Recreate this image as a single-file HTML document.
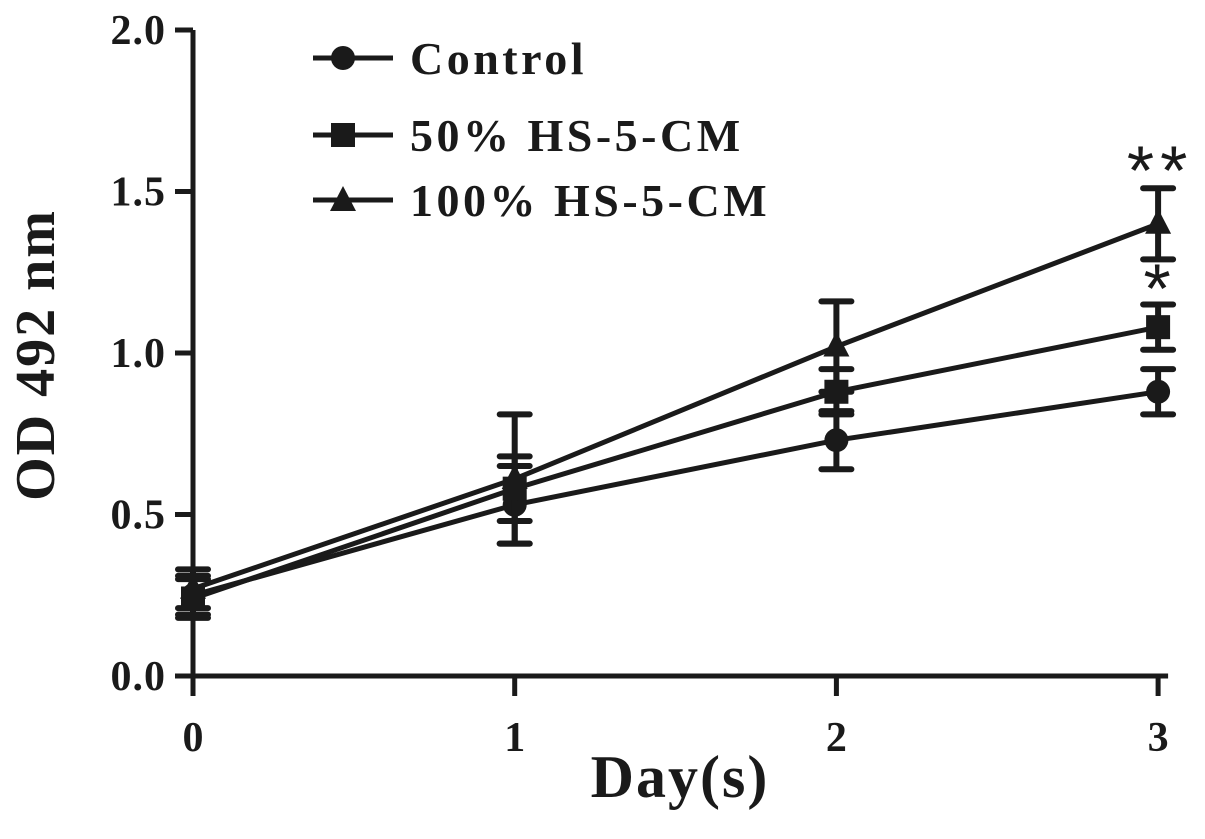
<!DOCTYPE html>
<html><head><meta charset="utf-8"><style>
body{margin:0;background:#fff;}
svg{display:block;font-family:"Liberation Serif",serif;font-weight:bold;}
</style></head><body>
<svg id="chart" width="1205" height="839" viewBox="0 0 1205 839" xmlns="http://www.w3.org/2000/svg"></svg>
<script>
const days = [0, 1, 2, 3];
const yTicks = [0, 0.5, 1.0, 1.5, 2.0];
const yTickLabels = ["0.0", "0.5", "1.0", "1.5", "2.0"];
const seriesNames = ["Control", "50% HS-5-CM", "100% HS-5-CM"];
const controlMean = [0.25, 0.53, 0.73, 0.88];
const controlErr = [0.06, 0.12, 0.09, 0.07];
const hs50Mean = [0.24, 0.58, 0.88, 1.08];
const hs50Err = [0.06, 0.10, 0.07, 0.07];
const hs100Mean = [0.27, 0.61, 1.02, 1.40];
const hs100Err = [0.06, 0.20, 0.14, 0.11];
const sig50 = ["", "", "", "*"];
const sig100 = ["", "", "", "**"];

const svg = document.getElementById('chart');
const NS = "http://www.w3.org/2000/svg";
const X0 = 193, XS = 321.7, Y0 = 676, YS = 323;
const xs = d => X0 + d * XS;
const ys = v => Y0 - v * YS;
function mk(tag, attrs, parent){const e=document.createElementNS(NS,tag);for(const k in attrs)e.setAttribute(k,attrs[k]);(parent||svg).appendChild(e);return e;}

let ax = mk('line',{x1:X0,y1:ys(2.0),x2:X0,y2:Y0+20,stroke:'#1a1a1a','stroke-width':5});


ax = mk('line',{x1:X0-18,y1:Y0,x2:xs(3)+10,y2:Y0,stroke:'#1a1a1a','stroke-width':5});


yTicks.forEach((v,i)=>{
  mk('line',{x1:X0-18,y1:ys(v),x2:X0,y2:ys(v),stroke:'#1a1a1a','stroke-width':5});
  const t = mk('text',{x:X0-27,y:ys(v)+14,'text-anchor':'end','font-size':42,fill:'#1a1a1a','letter-spacing':1});
  t.textContent = yTickLabels[i];
  
  
});
days.forEach(d=>{
  mk('line',{x1:xs(d),y1:Y0,x2:xs(d),y2:Y0+20,stroke:'#1a1a1a','stroke-width':5});
  const t = mk('text',{x:xs(d),y:Y0+75,'text-anchor':'middle','font-size':42,fill:'#1a1a1a'});
  t.textContent = String(d);
  
  
});
let tt = mk('text',{x:680,y:797,'text-anchor':'middle','font-size':60,fill:'#1a1a1a','letter-spacing':2});
tt.textContent='Day(s)';


tt = mk('text',{x:0,y:0,'text-anchor':'middle','font-size':56,fill:'#1a1a1a','letter-spacing':2,transform:'translate(54,355) rotate(-90)'});
tt.textContent='OD 492 nm';



function marker(shape,x,y,g){
  if(shape==='circle') return mk('circle',{cx:x,cy:y,r:12,fill:'#1a1a1a'},g);
  if(shape==='square') return mk('rect',{x:x-12,y:y-12,width:24,height:24,fill:'#1a1a1a'},g);
  return mk('polygon',{points:`${x},${y-15} ${x+13},${y+10} ${x-13},${y+10}`,fill:'#1a1a1a'},g);
}
const all = [[controlMean,controlErr,'circle','control'],[hs50Mean,hs50Err,'square','hs50'],[hs100Mean,hs100Err,'triangle','hs100']];
all.forEach(([m,e,shape,key])=>{
  const g = mk('g',{});
  
  
  const pl = mk('polyline',{points:days.map((d,i)=>xs(d)+','+ys(m[i])).join(' '),fill:'none',stroke:'#1a1a1a','stroke-width':5},g);
  
  
  days.forEach((d,i)=>{
    const x=xs(d), top=ys(m[i]+e[i]), bot=ys(m[i]-e[i]);
    const eb = mk('path',{d:`M${x},${top}V${bot}M${x-15},${top}H${x+15}M${x-15},${bot}H${x+15}`,stroke:'#1a1a1a','stroke-width':6,'stroke-linecap':'round',fill:'none'},g);
    
    
    const mm = marker(shape,x,ys(m[i]),g);
    
    
  });
});
function sig(labels, m, e){
  days.forEach((d,i)=>{
    if(!labels[i]) return;
    const t = mk('text',{x:xs(d)+2,y:ys(m[i]+e[i])+ (labels[i]==='**'?6:8),'text-anchor':'middle','font-size':70,'font-family':'Liberation Sans, sans-serif','font-weight':'normal',fill:'#1a1a1a','letter-spacing':6});
    t.textContent = labels[i];
    
    
  });
}
sig(sig50, hs50Mean, hs50Err);
sig(sig100, hs100Mean, hs100Err);

const legY=[58,135,200];
['circle','square','triangle'].forEach((shape,i)=>{
  const g = mk('g',{});
  
  
  mk('line',{x1:313,y1:legY[i],x2:393,y2:legY[i],stroke:'#1a1a1a','stroke-width':5},g);
  marker(shape,343,legY[i]+(shape==='triangle'?1:0),g);
  const t = mk('text',{x:410,y:legY[i]+16,'font-size':46,fill:'#1a1a1a','letter-spacing':3.5},g);
  t.textContent = seriesNames[i];
});
</script>
</body></html>
